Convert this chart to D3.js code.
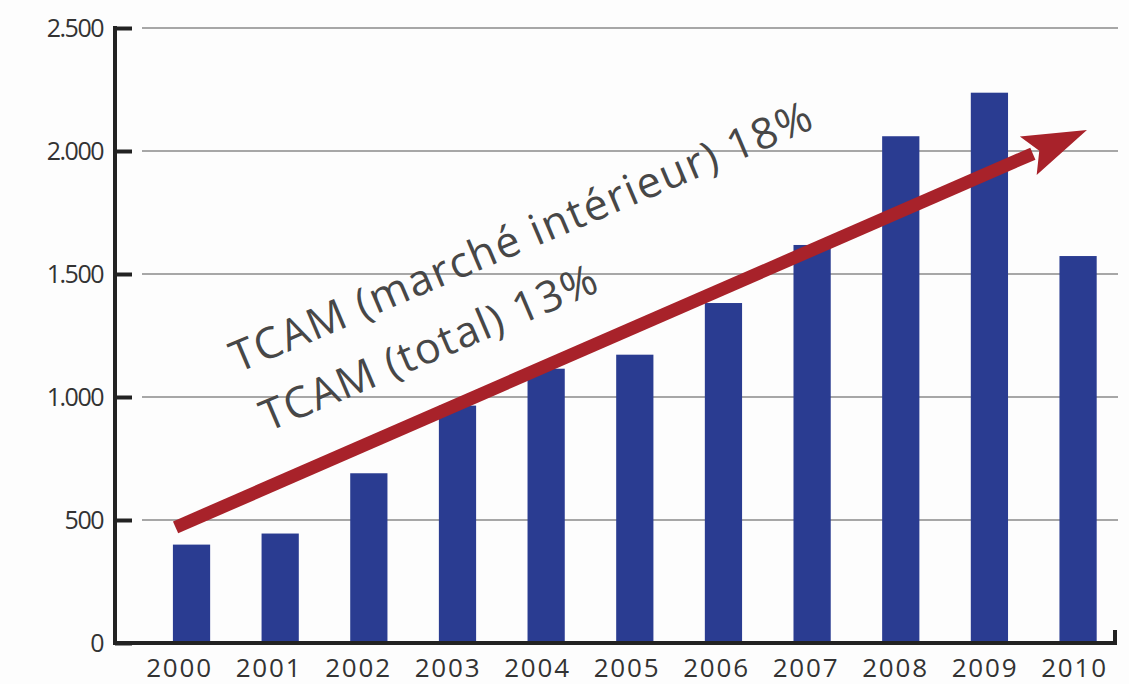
<!DOCTYPE html>
<html><head><meta charset="utf-8">
<script src="https://cdn.jsdelivr.net/npm/d3@7"></script>
<style>
html,body{margin:0;padding:0;background:#fdfdfd;}
svg{display:block;}
text{font-family:"Open Sans","Noto Sans",sans-serif;}
</style></head>
<body>
<svg id="chart" width="1129" height="684"></svg>
<script>
const years = ["2000","2001","2002","2003","2004","2005","2006","2007","2008","2009","2010"];
const values = [400, 445, 690, 965, 1115, 1172, 1382, 1618, 2060, 2237, 1573];
const yTicks = [0, 500, 1000, 1500, 2000, 2500];
const annotations = ["TCAM (marché intérieur) 18%", "TCAM (total) 13%"];
// trend arrow endpoints (category index offset, value)
const arrowStart = [-0.18, 470];
const arrowEnd = [10.1, 2085];

const svg = d3.select("#chart");
const W = 1129, H = 684;
svg.append("rect").attr("width", W).attr("height", H).attr("fill", "#fdfdfd");

const axisX = 115, baseY = 643, topY = 28;
const y = d3.scaleLinear().domain([0, 2500]).range([baseY, topY]);
const x = d3.scaleBand().domain(years).range([147.2, 1122.4]).paddingInner(0.58).paddingOuter(0.29);
const xLab = d3.scalePoint().domain(years).range([179, 1074]);
const step = x.step();
const xc = i => x(years[0]) + x.bandwidth() / 2 + i * step;

const fmt = d3.formatLocale({decimal: ",", thousands: ".", grouping: [3], currency: ["", "€"]}).format(",");

// gridlines
svg.append("g").selectAll("line").data(yTicks.filter(d => d > 0)).join("line")
  .attr("x1", 142).attr("x2", 1118)
  .attr("y1", d => y(d)).attr("y2", d => y(d))
  .attr("stroke", "#8a8a8a").attr("stroke-width", 1.5);

// bars
svg.append("g").selectAll("rect").data(values).join("rect")
  .attr("x", (d, i) => x(years[i]))
  .attr("width", x.bandwidth())
  .attr("y", d => y(d))
  .attr("height", d => baseY - y(d))
  .attr("fill", "#2a3c91");

// y axis
const yAxis = d3.axisRight(y).tickValues(yTicks).tickSize(17).tickFormat("");
const gy = svg.append("g").attr("transform", `translate(${axisX},0)`).call(yAxis);
gy.select(".domain").remove();
gy.selectAll(".tick line").attr("stroke", "#222").attr("stroke-width", 4);
svg.append("line").attr("x1", axisX).attr("x2", axisX).attr("y1", topY - 2).attr("y2", baseY + 2)
  .attr("stroke", "#222").attr("stroke-width", 4);
svg.append("g").selectAll("text").data(yTicks).join("text")
  .attr("x", 103).attr("y", d => y(d)).attr("dy", "0.36em")
  .attr("text-anchor", "end").attr("font-size", 25).attr("letter-spacing", -1.5)
  .attr("fill", "#333").text(d => fmt(d));

// x axis
svg.append("path").attr("d", `M${axisX},${baseY}H1115V${baseY - 13}`)
  .attr("fill", "none").attr("stroke", "#222").attr("stroke-width", 4);
const xAxis = d3.axisBottom(xLab).tickSize(0).tickPadding(0);
const gx = svg.append("g").attr("transform", `translate(0,${baseY})`).call(xAxis);
gx.select(".domain").remove();
gx.selectAll("text").attr("y", 34).attr("dy", 0).attr("font-size", 26).attr("letter-spacing", 1.8)
  .attr("fill", "#333").attr("font-family", "\"Open Sans\",sans-serif");

// arrow
const x1 = xc(arrowStart[0]), y1 = y(arrowStart[1]);
const x2 = xc(arrowEnd[0]), y2 = y(arrowEnd[1]);
const ang = Math.atan2(y2 - y1, x2 - x1);
const headLen = 64, headW = 21;
const bx = x2 - headLen * Math.cos(ang), by = y2 - headLen * Math.sin(ang);
const nx = -Math.sin(ang), ny = Math.cos(ang);
svg.append("line").attr("x1", x1).attr("y1", y1).attr("x2", bx + 5 * Math.cos(ang)).attr("y2", by + 5 * Math.sin(ang))
  .attr("stroke", "#a8222a").attr("stroke-width", 13);
svg.append("path")
  .attr("d", `M${x2},${y2}L${bx + nx * headW},${by + ny * headW}L${bx + 12 * Math.cos(ang)},${by + 12 * Math.sin(ang)}L${bx - nx * headW},${by - ny * headW}Z`)
  .attr("fill", "#a8222a");

// annotations
const rot = -23;
svg.append("text").attr("transform", `translate(238,373) rotate(${rot})`)
  .attr("font-size", 43).attr("letter-spacing", 1.6).attr("fill", "#474747").text(annotations[0]);
svg.append("text").attr("transform", `translate(268,432) rotate(${rot})`)
  .attr("font-size", 43).attr("letter-spacing", 1.4).attr("fill", "#474747").text(annotations[1]);
</script>
</body></html>
